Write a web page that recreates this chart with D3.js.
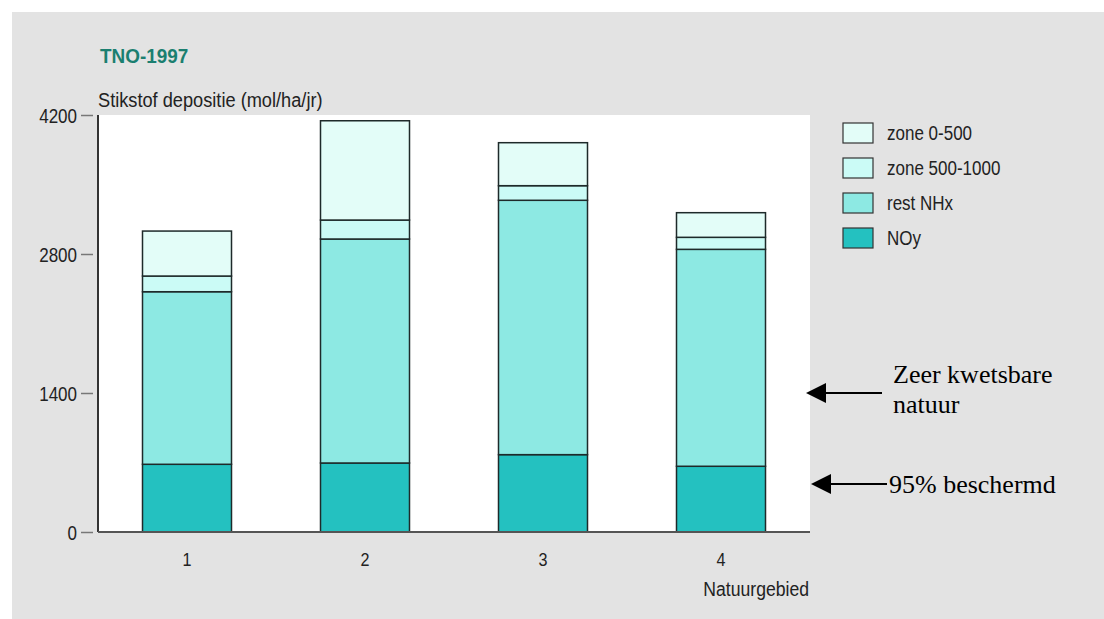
<!DOCTYPE html>
<html>
<head>
<meta charset="utf-8">
<script src="https://cdn.jsdelivr.net/npm/d3@7"></script>
<style>
  html, body { margin: 0; padding: 0; background: #ffffff; }
  svg { display: block; }
  .sans { font-family: "Liberation Sans", Arial, sans-serif; }
  .serif { font-family: "Liberation Serif", "Times New Roman", serif; }
</style>
</head>
<body>
<svg id="chart" width="1104" height="619"></svg>
<script>
// ---- data ----
const categories = ["1", "2", "3", "4"];
const seriesNames = ["NOy", "rest NHx", "zone 500-1000", "zone 0-500"];
const noy         = [682, 695, 779, 662];
const restNHx     = [1738, 2256, 2562, 2185];
const zone5001000 = [158, 191, 147, 121];
const zone0500    = [453, 1000, 433, 248];
const yTicks = [0, 1400, 2800, 4200];
const legendOrder = ["zone 0-500", "zone 500-1000", "rest NHx", "NOy"];
const colors = {
  "NOy": "#24c1c0",
  "rest NHx": "#8de9e3",
  "zone 500-1000": "#cbfbf6",
  "zone 0-500": "#e3fdf8"
};

const rows = categories.map((c, i) => ({
  cat: c,
  "NOy": noy[i],
  "rest NHx": restNHx[i],
  "zone 500-1000": zone5001000[i],
  "zone 0-500": zone0500[i]
}));

// condense text horizontally (narrow font look)
function condense(sel, f) {
  sel.each(function () {
    const len = this.getComputedTextLength();
    d3.select(this).attr("textLength", len * f).attr("lengthAdjust", "spacingAndGlyphs");
  });
}

const svg = d3.select("#chart");
const W = 1104, H = 619;

// background panel
svg.append("rect").attr("x", 12).attr("y", 12).attr("width", W - 12).attr("height", H - 12).attr("fill", "#e3e3e3");

const plot = { left: 98, right: 810, top: 115, bottom: 532 };

svg.append("rect")
  .attr("x", plot.left).attr("y", plot.top)
  .attr("width", plot.right - plot.left).attr("height", plot.bottom - plot.top)
  .attr("fill", "#ffffff");

const x = d3.scaleBand().domain(categories).range([plot.left, plot.right]).paddingInner(0.5).paddingOuter(0.25);
const y = d3.scaleLinear().domain([0, 4200]).range([plot.bottom, plot.top]);

const stacked = d3.stack().keys(seriesNames)(rows);

const g = svg.append("g");
stacked.forEach(layer => {
  g.selectAll(null).data(layer).enter().append("rect")
    .attr("x", d => x(d.data.cat))
    .attr("width", x.bandwidth())
    .attr("y", d => y(d[1]))
    .attr("height", d => y(d[0]) - y(d[1]))
    .attr("fill", colors[layer.key])
    .attr("stroke", "#1e2a2a")
    .attr("stroke-width", 1.5);
});

// y axis ticks (detached gray ticks + labels)
const yAxis = d3.axisLeft(y).tickValues(yTicks).tickFormat(d3.format("d")).tickSize(12).tickPadding(4);
const ya = svg.append("g").attr("transform", `translate(${plot.left - 5},0)`).call(yAxis);
ya.select(".domain").remove();
ya.selectAll(".tick line").attr("stroke", "#777").attr("stroke-width", 1.5);
ya.selectAll(".tick text").attr("class", "sans").attr("font-size", 20).attr("fill", "#222").attr("dy", "0.36em")
  .call(condense, 0.85);

// y axis line
svg.append("line").attr("x1", plot.left).attr("x2", plot.left).attr("y1", plot.top).attr("y2", plot.bottom)
  .attr("stroke", "#333").attr("stroke-width", 2);

// x axis
const xAxis = d3.axisBottom(x).tickSize(0).tickPadding(21);
const xa = svg.append("g").attr("transform", `translate(0,${plot.bottom})`).call(xAxis);
xa.select(".domain").remove();
xa.selectAll(".tick text").attr("class", "sans").attr("font-size", 19).attr("fill", "#222")
  .call(condense, 0.85);
svg.append("line").attr("x1", plot.left).attr("x2", plot.right).attr("y1", plot.bottom).attr("y2", plot.bottom)
  .attr("stroke", "#555").attr("stroke-width", 2);

svg.append("text").attr("class", "sans").attr("x", plot.right - 1).attr("y", 596)
  .attr("text-anchor", "end").attr("font-size", 20).attr("fill", "#222").text("Natuurgebied")
  .call(condense, 0.88);

// titles
svg.append("text").attr("class", "sans").attr("x", 100).attr("y", 63)
  .attr("font-size", 21).attr("font-weight", "bold").attr("fill", "#1b7f70").text("TNO-1997")
  .call(condense, 0.9);
svg.append("text").attr("class", "sans").attr("x", 98).attr("y", 107)
  .attr("font-size", 20).attr("fill", "#222").text("Stikstof depositie (mol/ha/jr)")
  .call(condense, 0.91);

// legend
const lg = svg.append("g").attr("transform", "translate(843,123)");
legendOrder.forEach((k, i) => {
  lg.append("rect").attr("x", 0).attr("y", i * 35).attr("width", 30).attr("height", 20)
    .attr("fill", colors[k]).attr("stroke", "#333").attr("stroke-width", 1.2);
  lg.append("text").attr("class", "sans").attr("x", 44).attr("y", i * 35 + 10).attr("dy", "0.36em")
    .attr("font-size", 20).attr("fill", "#222").text(k)
    .call(condense, 0.85);
});

// annotations
function arrow(xTip, xTail, yy) {
  svg.append("line").attr("x1", xTail).attr("y1", yy).attr("x2", xTip + 18).attr("y2", yy)
    .attr("stroke", "#000").attr("stroke-width", 2);
  svg.append("path")
    .attr("d", `M${xTip},${yy} L${xTip + 20},${yy - 10} L${xTip + 20},${yy + 10} Z`)
    .attr("fill", "#000");
}
arrow(806, 882, 393);
arrow(811, 887, 484);

const ann = svg.append("text").attr("class", "serif").attr("font-size", 26).attr("fill", "#000");
ann.append("tspan").attr("x", 893).attr("y", 383).text("Zeer kwetsbare");
ann.append("tspan").attr("x", 893).attr("y", 413).text("natuur");
svg.append("text").attr("class", "serif").attr("x", 889).attr("y", 493).attr("font-size", 26).attr("fill", "#000").text("95% beschermd");
</script>
</body>
</html>
